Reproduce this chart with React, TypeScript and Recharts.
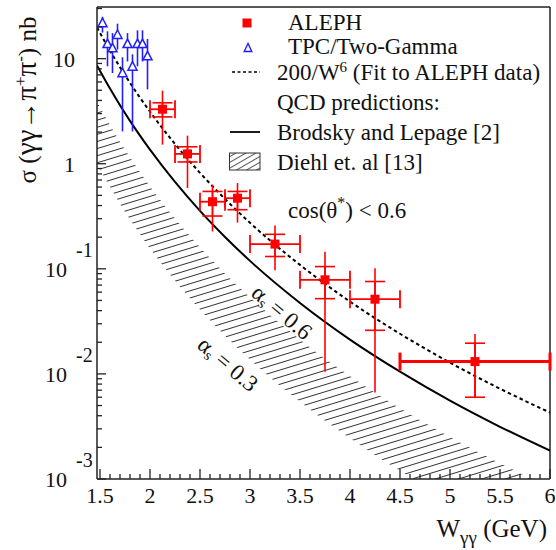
import React from "react";
import {
  ComposedChart,
  XAxis,
  YAxis,
  Scatter,
  Line,
  Area,
  ErrorBar,
  ReferenceLine,
} from "recharts";

// ALEPH measurement, cos(theta*) < 0.6
const ALEPH_W = [2.125, 2.375, 2.625, 2.875, 3.25, 3.75, 4.25, 5.25];
const ALEPH_W_LO = [2.0, 2.25, 2.5, 2.75, 3.0, 3.5, 4.0, 4.5];
const ALEPH_W_HI = [2.25, 2.5, 2.75, 3.0, 3.5, 4.0, 4.5, 6.0];
const ALEPH_SIGMA = [3.3, 1.24, 0.435, 0.47, 0.172, 0.0786, 0.0514, 0.0131];
const ALEPH_STAT_HI = [3.8, 1.45, 0.545, 0.545, 0.213, 0.105, 0.0757, 0.0196];
const ALEPH_STAT_LO = [2.79, 1.04, 0.318, 0.365, 0.131, 0.052, 0.026, 0.006];
const ALEPH_TOT_HI = [4.95, 1.85, 0.63, 0.655, 0.258, 0.145, 0.101, 0.024];
const ALEPH_TOT_LO = [1.52, 0.587, 0.227, 0.275, 0.097, 0.0105, 0.00664, 0.006];

// TPC/Two-Gamma points
const TPC_W = [1.525, 1.575, 1.625, 1.675, 1.725, 1.775, 1.825, 1.875, 1.925, 1.975];
const TPC_SIGMA = [21.5, 13.6, 12.4, 16.6, 7.2, 13.6, 8.3, 13.6, 13.6, 10.4];
const TPC_HI = [25, 18.2, 17.5, 21.5, 10.3, 17.5, 11.0, 18.6, 18.6, 15.4];
const TPC_LO = [17.7, 8.45, 7.3, 12.2, 2.03, 9.4, 2.03, 8.45, 9.4, 5.1];

// curves
const CURVE_W = [1.47, 1.6, 1.7, 1.8, 1.9, 2.0, 2.25, 2.5, 2.75, 3.0, 3.5, 4.0, 4.5, 5.0, 5.5, 6.0];
const FIT_SIGMA = [19.8, 11.9, 8.29, 5.88, 4.25, 3.13, 1.54, 0.819, 0.462, 0.274, 0.109, 0.0488, 0.0241, 0.0128, 0.00723, 0.00429];
const BL_SIGMA = [8.62, 5.19, 3.6, 2.56, 1.85, 1.36, 0.671, 0.356, 0.201, 0.119, 0.0473, 0.0212, 0.0105, 0.00557, 0.00314, 0.00186];
const DIEHL_HI = [3.88, 2.33, 1.62, 1.15, 0.83, 0.61, 0.302, 0.16, 0.0905, 0.0537, 0.0213, 0.00956, 0.00471, 0.00251, 0.00141, 0.00084];
const DIEHL_LO = [0.99, 0.6, 0.414, 0.294, 0.213, 0.156, 0.077, 0.041, 0.0231, 0.0137, 0.00544, 0.00244, 0.0012, 0.00064, 0.00036, 0.00021];

// axes
const X_MAJOR = [1.5, 2, 2.5, 3, 3.5, 4, 4.5, 5, 5.5, 6];
const X_LABELS = ["1.5", "2", "2.5", "3", "3.5", "4", "4.5", "5", "5.5", "6"];
const Y_DECADES = [0.001, 0.01, 0.1, 1, 10];
const Y_BASES = ["10", "10", "10", "1", "10"];
const Y_EXPS = ["-3", "-2", "-1", "", ""];

const FONT = '"Liberation Serif", serif';
const RED = "#ff0000";
const BLUE = "#1f1fff";
const AXIS = "#222";

const xTicks: number[] = [];
for (let i = 15; i <= 60; i++) xTicks.push(i / 10);
const yTicks: number[] = [];
Y_DECADES.forEach((d) => {
  for (let m = 1; m <= 9; m++) {
    const v = d * m;
    if (v <= 31) yTicks.push(v);
  }
});

const alephData = ALEPH_W.map((x, i) => ({
  x,
  y: ALEPH_SIGMA[i],
  xErr: [x - ALEPH_W_LO[i], ALEPH_W_HI[i] - x],
  yTot: [ALEPH_SIGMA[i] - ALEPH_TOT_LO[i], ALEPH_TOT_HI[i] - ALEPH_SIGMA[i]],
  yStat: [ALEPH_SIGMA[i] - ALEPH_STAT_LO[i], ALEPH_STAT_HI[i] - ALEPH_SIGMA[i]],
}));
const alephNarrow = alephData.slice(0, 7);
const alephWide = alephData.slice(7);

const tpcData = TPC_W.map((x, i) => ({
  x,
  y: TPC_SIGMA[i],
  yErr: [TPC_SIGMA[i] - TPC_LO[i], TPC_HI[i] - TPC_SIGMA[i]],
}));

const curveData = CURVE_W.map((x, i) => ({
  x,
  fit: FIT_SIGMA[i],
  bl: BL_SIGMA[i],
  diehl: [DIEHL_LO[i], DIEHL_HI[i]],
}));

const tick: React.CSSProperties = { fontSize: 22, fontFamily: FONT, fill: "#111" };
const txt: React.CSSProperties = { fontSize: 23, fontFamily: FONT, fill: "#111" };
const title: React.CSSProperties = { fontSize: 25, fontFamily: FONT, fill: "#111" };

const XTick = (props: any) => {
  const { x, y, payload } = props;
  const v = payload.value;
  const idx = X_MAJOR.findIndex((m) => Math.abs(m - v) < 1e-6);
  const major = idx >= 0;
  return (
    <g>
      <line x1={x} y1={y} x2={x} y2={y - (major ? 10 : 5)} stroke={AXIS} strokeWidth={1.3} />
      {major && (
        <text x={x} y={y + 24} textAnchor="middle" style={tick}>
          {X_LABELS[idx]}
        </text>
      )}
    </g>
  );
};

const YTick = (props: any) => {
  const { x, y, payload } = props;
  const v = payload.value;
  const idx = Y_DECADES.findIndex((d) => Math.abs(Math.log10(d) - Math.log10(v)) < 1e-6);
  const major = idx >= 0;
  return (
    <g>
      <line x1={x} y1={y} x2={x + (major ? 9 : 5)} y2={y} stroke={AXIS} strokeWidth={1.3} />
      {major && (
        <text x={Y_EXPS[idx] ? x - 30 : x - 22} y={y + 8} textAnchor="end" style={tick}>
          {Y_BASES[idx]}
        </text>
      )}
      {major && Y_EXPS[idx] && (
        <text x={x - 21} y={y - 12} style={{ ...tick, fontSize: 20 }}>
          {Y_EXPS[idx]}
        </text>
      )}
    </g>
  );
};

const Square = (props: any) => {
  const { cx, cy } = props;
  return <rect x={cx - 4.5} y={cy - 4.5} width={9} height={9} fill={RED} />;
};

const Triangle = (props: any) => {
  const { cx, cy } = props;
  return (
    <polygon
      points={`${cx},${cy - 5.5} ${cx - 4.5},${cy + 3} ${cx + 4.5},${cy + 3}`}
      fill="#fff"
      stroke={BLUE}
      strokeWidth={1.5}
    />
  );
};

const App: React.FC = () => {
  return (
    <div style={{ position: "absolute", left: 0, top: 0 }}>
      <ComposedChart width={556} height={550} margin={{ top: 7, right: 6, left: 0, bottom: 0 }}>
        <defs>
          <pattern id="diehlHatch" width="12" height="6.8" patternUnits="userSpaceOnUse" patternTransform="rotate(-17)">
            <line x1="0" y1="0.5" x2="12" y2="0.5" stroke="#333" strokeWidth="1" />
          </pattern>
          <pattern id="legendHatch" width="10" height="5" patternUnits="userSpaceOnUse" patternTransform="rotate(-30)">
            <line x1="0" y1="0.5" x2="10" y2="0.5" stroke="#444" strokeWidth="0.9" />
          </pattern>
        </defs>
        <XAxis
          type="number"
          dataKey="x"
          domain={[1.47, 6]}
          allowDataOverflow
          ticks={xTicks}
          interval={0}
          tick={<XTick />}
          tickLine={false}
          tickSize={0}
          tickMargin={0}
          height={71}
          axisLine={{ stroke: AXIS, strokeWidth: 1.5 }}
        />
        <YAxis
          type="number"
          scale="log"
          domain={[0.001, 31]}
          allowDataOverflow
          ticks={yTicks}
          interval={0}
          tick={<YTick />}
          tickLine={false}
          tickSize={0}
          tickMargin={0}
          width={97}
          axisLine={{ stroke: AXIS, strokeWidth: 1.5 }}
        />
        <ReferenceLine y={31} stroke={AXIS} strokeWidth={1.5} />
        <ReferenceLine x={6} stroke={AXIS} strokeWidth={1.5} />

        <Area
          data={curveData}
          dataKey="diehl"
          type="monotone"
          fill="url(#diehlHatch)"
          fillOpacity={1}
          stroke="none"
          dot={false}
          activeDot={false}
          isAnimationActive={false}
        />
        <Line
          data={curveData}
          dataKey="bl"
          type="monotone"
          stroke="#000"
          strokeWidth={2}
          dot={false}
          activeDot={false}
          isAnimationActive={false}
        />
        <Line
          data={curveData}
          dataKey="fit"
          type="monotone"
          stroke="#000"
          strokeWidth={2}
          strokeDasharray="3.5 3"
          dot={false}
          activeDot={false}
          isAnimationActive={false}
        />

        <Scatter data={tpcData} dataKey="y" shape={<Triangle />} isAnimationActive={false}>
          <ErrorBar dataKey="yErr" direction="y" width={0} stroke={BLUE} strokeWidth={1.6} />
        </Scatter>
        <Scatter data={alephNarrow} dataKey="y" shape={<Square />} isAnimationActive={false}>
          <ErrorBar dataKey="yTot" direction="y" width={0} stroke={RED} strokeWidth={1.6} />
          <ErrorBar dataKey="yStat" direction="y" width={10} stroke={RED} strokeWidth={1.6} />
          <ErrorBar dataKey="xErr" direction="x" width={9} stroke={RED} strokeWidth={1.8} />
        </Scatter>
        <Scatter data={alephWide} dataKey="y" shape={<Square />} isAnimationActive={false}>
          <ErrorBar dataKey="yTot" direction="y" width={0} stroke={RED} strokeWidth={1.6} />
          <ErrorBar dataKey="yStat" direction="y" width={10} stroke={RED} strokeWidth={1.6} />
          <ErrorBar dataKey="xErr" direction="x" width={9} stroke={RED} strokeWidth={3} />
        </Scatter>

        {/* legend */}
        <g>
          <rect x={242.5} y={18.5} width={9} height={9} fill={RED} />
          <text x={288} y={30} style={txt}>ALEPH</text>
          <polygon points="248,43.5 244.2,51.5 251.8,51.5" fill="#fff" stroke={BLUE} strokeWidth={1.4} />
          <text x={288} y={54} style={txt}>TPC/Two-Gamma</text>
          <line x1={232} y1={72} x2={260} y2={72} stroke="#000" strokeWidth={1.5} strokeDasharray="3 2.5" />
          <text x={277} y={80} style={txt}>
            200/W<tspan dy={-8} style={{ fontSize: 15 }}>6</tspan>
            <tspan dy={8}> (Fit to ALEPH data)</tspan>
          </text>
          <text x={277} y={110} style={txt}>QCD predictions:</text>
          <line x1={230} y1={132} x2={260} y2={132} stroke="#000" strokeWidth={1.8} />
          <text x={277} y={140} style={txt}>Brodsky and Lepage [2]</text>
          <rect x={229.5} y={153} width={30.5} height={17} fill="url(#legendHatch)" stroke="#333" strokeWidth={1} />
          <text x={277} y={170} style={txt}>Diehl et. al [13]</text>
        </g>

        <text x={288} y={218} style={txt}>
          cos(θ<tspan dy={-10} style={{ fontSize: 16 }}>*</tspan>
          <tspan dy={10}>) &lt; 0.6</tspan>
        </text>

        <text transform="translate(282,312) rotate(40)" textAnchor="middle" dominantBaseline="central" style={txt}>
          α<tspan dy={6} style={{ fontSize: 15 }}>s</tspan>
          <tspan dy={-6}> = 0.6</tspan>
        </text>
        <text transform="translate(228,364) rotate(40)" textAnchor="middle" dominantBaseline="central" style={txt}>
          α<tspan dy={6} style={{ fontSize: 15 }}>s</tspan>
          <tspan dy={-6}> = 0.3</tspan>
        </text>

        {/* axis titles */}
        <text transform="translate(36,100) rotate(-90)" textAnchor="middle" style={title}>
          σ (<tspan style={{ fontSize: 29 }}>γγ→π</tspan>
          <tspan dy={-10} style={{ fontSize: 17 }}>+</tspan>
          <tspan dy={10} style={{ fontSize: 29 }}>π</tspan>
          <tspan dy={-10} style={{ fontSize: 17 }}>-</tspan>
          <tspan dy={10}>) nb</tspan>
        </text>
        <text x={547} y={537} textAnchor="end" style={title}>
          W<tspan dy={7} style={{ fontSize: 19 }}>γγ</tspan>
          <tspan dy={-7}> (GeV)</tspan>
        </text>
      </ComposedChart>
    </div>
  );
};

export default App;
